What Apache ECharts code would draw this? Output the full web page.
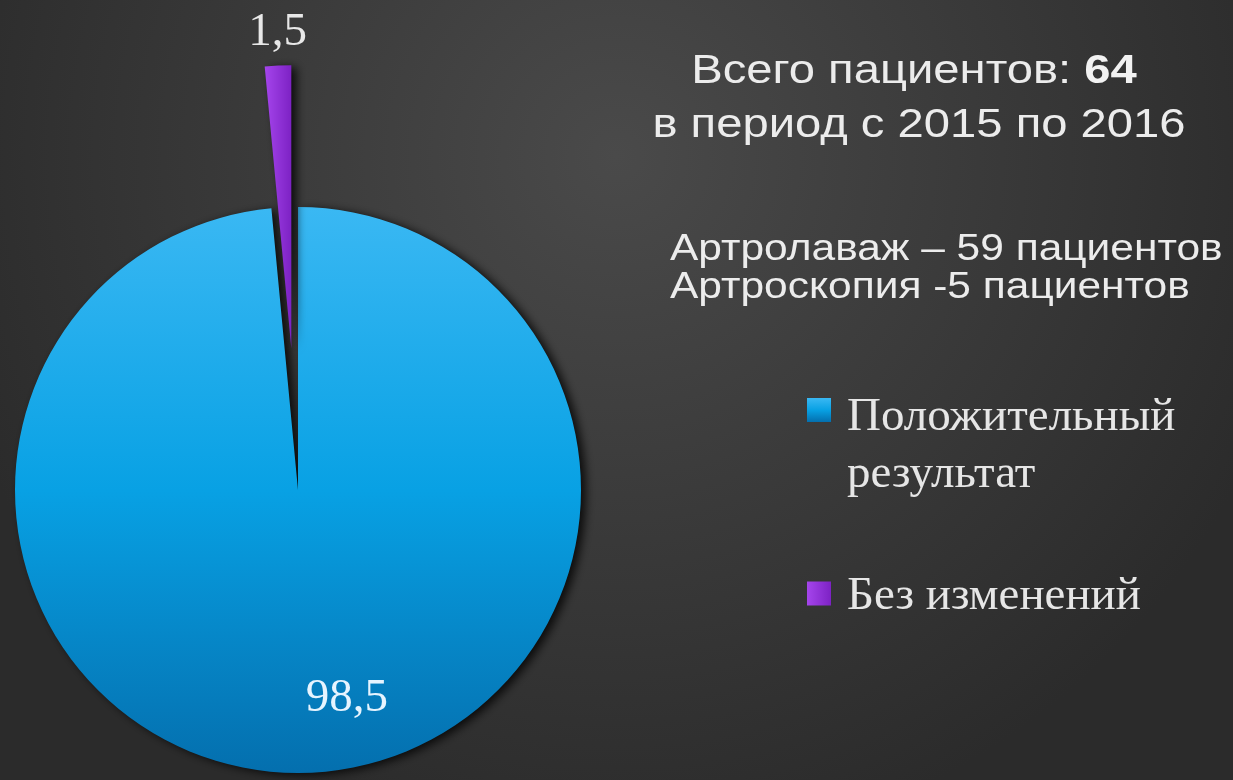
<!DOCTYPE html>
<html>
<head>
<meta charset="utf-8">
<script src="https://cdn.jsdelivr.net/npm/echarts@6/dist/echarts.min.js"></script>
<style>
  html, body { margin: 0; padding: 0; background: #333; }
  #chart { width: 1233px; height: 780px; }
</style>
</head>
<body>
<div id="chart"></div>
<script>
// Outcome categories and their shares (percent)
const categories = ['Положительный\nрезультат', 'Без изменений'];
const values = [98.5, 1.5];

// Summary text shown beside the pie
const totalLine = 'Всего пациентов: ';
const totalCount = '64';
const periodLine = 'в период с 2015 по 2016';
const methodLines = ['Артролаваж – 59 пациентов', 'Артроскопия -5 пациентов'];

const sliceFills = [
  new echarts.graphic.LinearGradient(0, 0, 0, 1, [
    { offset: 0, color: '#3ab8f3' },
    { offset: 0.5, color: '#08a1e4' },
    { offset: 1, color: '#046fae' }
  ]),
  new echarts.graphic.LinearGradient(0, 0, 1, 0, [
    { offset: 0, color: '#a545ec' },
    { offset: 1, color: '#7d22c4' }
  ])
];
const labelColors = ['#e6f4ff', '#e8e8e8'];

const fmt = v => String(v).replace('.', ',');

const chart = echarts.init(document.getElementById('chart'), null, { renderer: 'canvas' });

const sansFont = 'Liberation Sans, Arial, sans-serif';
const serifFont = 'Liberation Serif, Times New Roman, serif';

// Legend text: a spacer line on top keeps the icon level with the first text line
const legendRich = {
  s1: { fontSize: 10, lineHeight: 73 },
  s2: { fontSize: 4, lineHeight: 6 },
  t: { fontFamily: serifFont, fontSize: 47, lineHeight: 57, color: '#e6e6e6', padding: [0, 0, 0, 11] }
};
const legendFormatter = name => {
  const lines = name.split('\n').map(l => '{t|' + l + '}');
  return (lines.length > 1 ? '{s1| }' : '{s2| }') + '\n' + lines.join('\n');
};
const legendBase = {
  orient: 'vertical',
  left: 807,
  padding: 0,
  icon: 'rect',
  itemWidth: 24,
  itemHeight: 24,
  itemGap: 0,
  selectedMode: false,
  formatter: legendFormatter,
  textStyle: { fontFamily: serifFont, fontSize: 47, color: '#e6e6e6', rich: legendRich }
};

chart.setOption({
  animation: false,
  backgroundColor: new echarts.graphic.RadialGradient(0.5, 0.2, 0.9, [
    { offset: 0, color: '#4a4a4a' },
    { offset: 1, color: '#2b2b2b' }
  ]),
  legend: [
    Object.assign({}, legendBase, { data: [categories[0]], top: 348 }),
    Object.assign({}, legendBase, { data: [categories[1]], top: 563 })
  ],
  graphic: [
    {
      type: 'text', x: 914, y: 72, scaleX: 1.18, silent: true,
      style: {
        text: '{n|' + totalLine + '}{b|' + totalCount + '}',
        align: 'center', verticalAlign: 'middle',
        rich: {
          n: { fontFamily: sansFont, fontSize: 40, fill: '#ececec', color: '#ececec' },
          b: { fontFamily: sansFont, fontSize: 40, fontWeight: 'bold', fill: '#f2f2f2', color: '#f2f2f2' }
        }
      }
    },
    {
      type: 'text', x: 919, y: 126, scaleX: 1.18, silent: true,
      style: { text: periodLine, font: '40px ' + sansFont, fill: '#ececec', align: 'center', verticalAlign: 'middle' }
    },
    {
      type: 'text', x: 670, y: 250, scaleX: 1.18, silent: true,
      style: { text: methodLines[0], font: '36px ' + sansFont, fill: '#ececec', align: 'left', verticalAlign: 'middle' }
    },
    {
      type: 'text', x: 670, y: 288, scaleX: 1.18, silent: true,
      style: { text: methodLines[1], font: '36px ' + sansFont, fill: '#ececec', align: 'left', verticalAlign: 'middle' }
    }
  ],
  series: [
    {
      type: 'pie',
      center: [298, 490],
      radius: [0, 283],
      startAngle: 90,
      clockwise: true,
      selectedMode: 'single',
      selectedOffset: 142,
      avoidLabelOverlap: false,
      emphasis: { disabled: true },
      itemStyle: {
        shadowBlur: 10,
        shadowColor: 'rgba(0,0,0,0.8)',
        shadowOffsetX: 5,
        shadowOffsetY: 2
      },
      label: {
        show: true,
        position: 'inside',
        formatter: p => fmt(p.value),
        fontFamily: serifFont,
        fontSize: 47
      },
      labelLine: { show: false },
      labelLayout: p => (p.dataIndex === 0 ? { dx: 42, dy: 64 } : { dx: -7, dy: -171 }),
      data: values.map((v, i) => ({
        name: categories[i],
        value: v,
        selected: i === 1,
        itemStyle: { color: sliceFills[i] },
        label: { color: labelColors[i] }
      }))
    }
  ]
});
</script>
</body>
</html>
